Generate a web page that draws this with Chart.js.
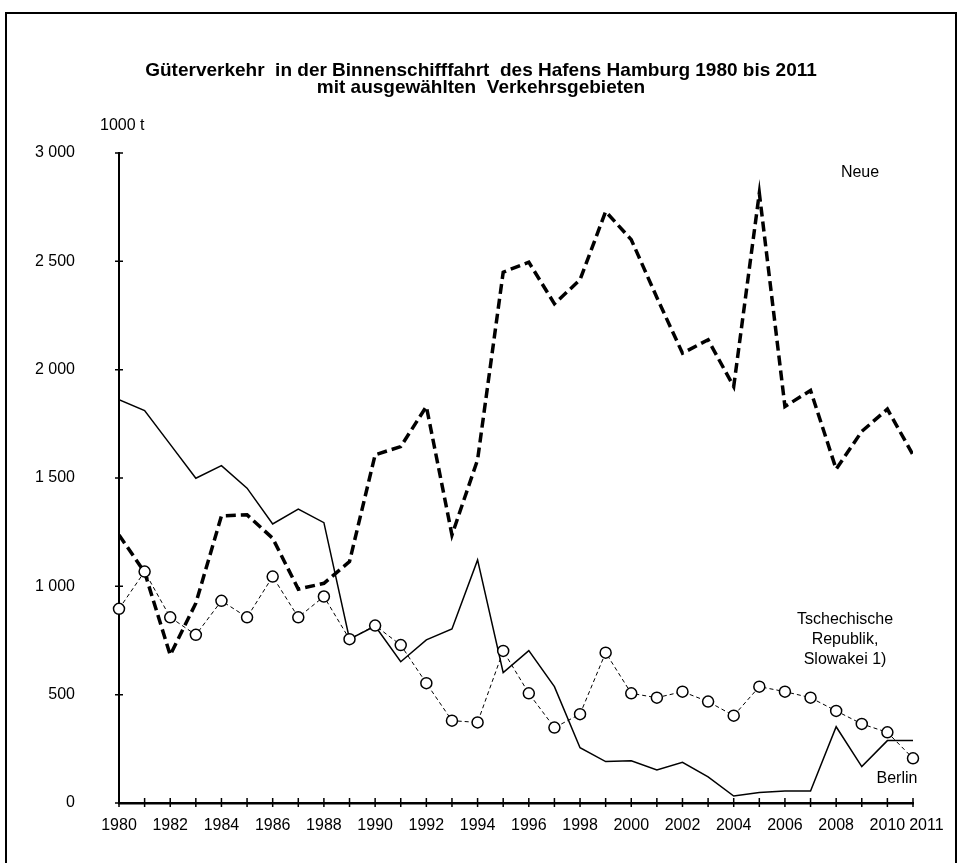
<!DOCTYPE html>
<html>
<head>
<meta charset="utf-8">
<title>Güterverkehr Binnenschifffahrt Hamburg</title>
<script src="https://cdn.jsdelivr.net/npm/chart.js@4/dist/chart.umd.min.js"></script>
<style>
  html, body { margin: 0; padding: 0; background: #fff; overflow: hidden; }
  #wrap { position: relative; width: 962px; height: 863px; }
  #frame {
    position: absolute; left: 5px; top: 12px; width: 952px; height: 900px;
    border: 2px solid #000; box-sizing: border-box; pointer-events: none;
  }
</style>
</head>
<body>
<div id="wrap">
  <canvas id="chart_hafen" width="962" height="863"></canvas>
  <div id="frame"></div>
</div>
<script>
// years on the x axis
var years = [1980, 1981, 1982, 1983, 1984, 1985, 1986, 1987, 1988, 1989, 1990,
  1991, 1992, 1993, 1994, 1995, 1996, 1997, 1998, 1999, 2000,
  2001, 2002, 2003, 2004, 2005, 2006, 2007, 2008, 2009, 2010, 2011];

// years that get a label under the axis
var labelYears = [1980, 1982, 1984, 1986, 1988, 1990, 1992, 1994, 1996, 1998,
  2000, 2002, 2004, 2006, 2008, 2010, 2011];

var yTicks = [0, 500, 1000, 1500, 2000, 2500, 3000];

// values in 1000 t
var tschechien = [896, 1068, 857, 776, 933, 857, 1045, 857, 953, 756, 819,
  729, 553, 380, 372, 702, 506, 348, 410, 694, 506,
  486, 514, 468, 403, 537, 514, 486, 425, 365, 326, 206];

var neue = [1237, 1065, 683, 922, 1325, 1330, 1222, 987, 1014, 1114, 1607,
  1645, 1830, 1237, 1584, 2450, 2496, 2304, 2415, 2730, 2600,
  2333, 2076, 2138, 1922, 2815, 1830, 1904, 1541, 1715, 1818, 1607];

var berlin = [1861, 1811, 1655, 1499, 1557, 1453, 1288, 1356, 1294, 756, 817,
  652, 753, 803, 1122, 602, 703, 537, 255, 191, 195,
  152, 188, 121, 32, 48, 55, 55, 352, 168, 288, 288];

var titleLines = ['Güterverkehr  in der Binnenschifffahrt  des Hafens Hamburg 1980 bis 2011',
  'mit ausgewählten  Verkehrsgebieten'];

var FONT = '"Liberation Sans", Arial, sans-serif';

function toPoints(values) {
  return years.map(function(y, i) { return { x: y, y: values[i] }; });
}

function fmtThousands(v) {
  return String(v).replace(/\B(?=(\d{3})+(?!\d))/g, ' ');
}

// tick marks that cross the axis lines, like in the print original
var crossTicks = {
  id: 'crossTicks',
  afterDraw: function(chart) {
    var c = chart.ctx;
    var xs = chart.scales.x;
    var ys = chart.scales.y;
    c.save();
    c.strokeStyle = '#000';
    c.lineWidth = 1.5;
    c.beginPath();
    xs.ticks.forEach(function(t) {
      var px = xs.getPixelForValue(t.value);
      c.moveTo(px, ys.bottom - 5);
      c.lineTo(px, ys.bottom + 4);
    });
    ys.ticks.forEach(function(t) {
      var py = ys.getPixelForValue(t.value);
      c.moveTo(xs.left - 4, py);
      c.lineTo(xs.left + 4, py);
    });
    c.stroke();
    c.restore();
  }
};

// title, unit and series names written into the plot
var notes = {
  id: 'notes',
  afterDraw: function(chart) {
    var c = chart.ctx;
    c.save();
    c.fillStyle = '#000';
    c.textBaseline = 'middle';
    c.textAlign = 'center';
    c.font = 'bold 19px ' + FONT;
    c.fillText(titleLines[0], 481, 71);
    c.fillText(titleLines[1], 481, 88);

    c.font = '16px ' + FONT;
    c.textAlign = 'left';
    c.fillText('1000 t', 100, 126);
    c.textAlign = 'center';
    c.fillText('Neue', 860, 173);
    c.fillText('Tschechische', 845, 620);
    c.fillText('Republik,', 845, 640);
    c.fillText('Slowakei 1)', 845, 660);
    c.fillText('Berlin', 897, 779);
    c.restore();
  }
};

var ctx = document.getElementById('chart_hafen').getContext('2d');
new Chart(ctx, {
  type: 'line',
  data: {
    datasets: [
      {
        label: 'Tschechische Republik, Slowakei 1)',
        data: toPoints(tschechien),
        borderColor: '#000',
        borderWidth: 1,
        borderDash: [4, 3],
        pointRadius: 5.5,
        pointBackgroundColor: '#fff',
        pointBorderColor: '#000',
        pointBorderWidth: 1.5,
        tension: 0,
        clip: false
      },
      {
        label: 'Neue',
        data: toPoints(neue),
        borderColor: '#000',
        borderWidth: 3.5,
        borderDash: [10, 5],
        pointRadius: 0,
        tension: 0
      },
      {
        label: 'Berlin',
        data: toPoints(berlin),
        borderColor: '#000',
        borderWidth: 1.5,
        pointRadius: 0,
        tension: 0
      }
    ]
  },
  options: {
    responsive: false,
    animation: false,
    layout: {
      padding: { left: 0, right: 49, top: 153, bottom: 0 }
    },
    plugins: {
      legend: { display: false },
      tooltip: { enabled: false },
      title: { display: false }
    },
    scales: {
      x: {
        type: 'linear',
        min: 1980,
        max: 2011,
        afterBuildTicks: function(scale) {
          scale.ticks = years.map(function(v) { return { value: v }; });
        },
        afterFit: function(scale) { scale.height = 60; },
        grid: { drawOnChartArea: false, drawTicks: false },
        border: { display: true, color: '#000', width: 2.5 },
        ticks: {
          autoSkip: false,
          maxRotation: 0,
          padding: 13,
          color: '#000',
          font: { family: FONT, size: 16 },
          callback: function(v) {
            if (labelYears.indexOf(v) < 0) return '';
            // last year sits just right of 2010 in the original
            return v === 2011 ? '      ' + v : String(v);
          }
        }
      },
      y: {
        min: 0,
        max: 3000,
        afterBuildTicks: function(scale) {
          scale.ticks = yTicks.map(function(v) { return { value: v }; });
        },
        afterFit: function(scale) { scale.width = 119; },
        grid: { drawOnChartArea: false, drawTicks: false },
        border: { display: true, color: '#000', width: 2 },
        ticks: {
          padding: 44,
          color: '#000',
          font: { family: FONT, size: 16 },
          callback: function(v) { return fmtThousands(v); }
        }
      }
    }
  },
  plugins: [crossTicks, notes]
});
</script>
</body>
</html>
